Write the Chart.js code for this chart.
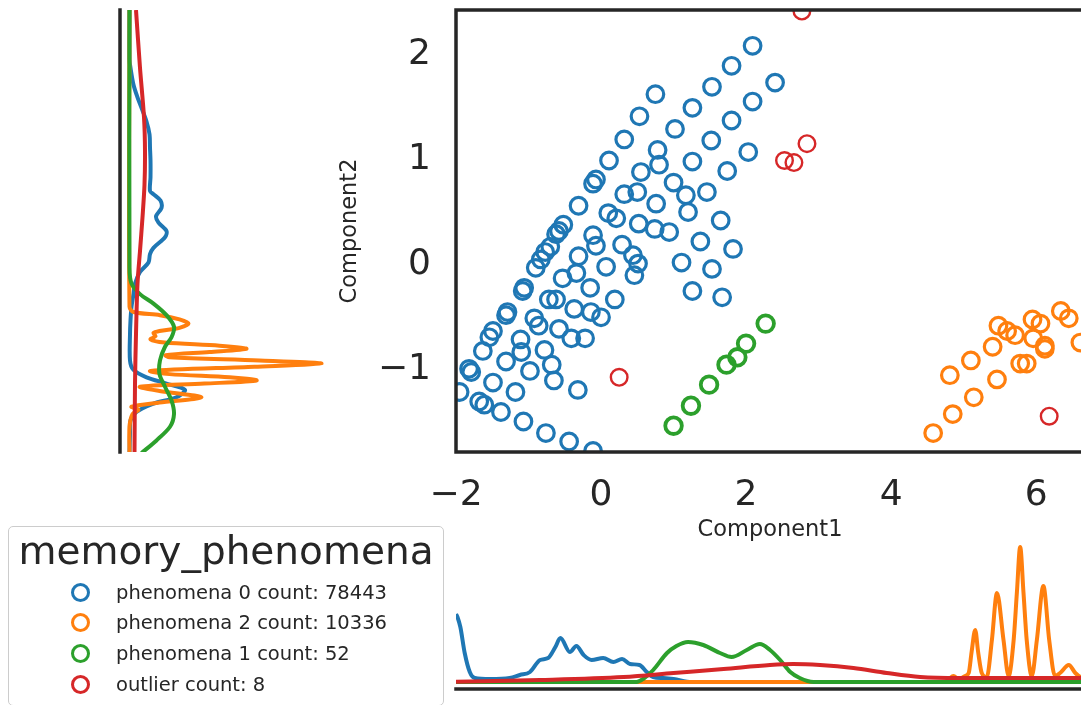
<!DOCTYPE html>
<html>
<head>
<meta charset="utf-8">
<script src="https://cdn.jsdelivr.net/npm/chart.js@4.4.1/dist/chart.umd.min.js"></script>
<style>
  html, body { margin: 0; padding: 0; background: #fff; overflow: hidden; width: 1081px; height: 705px; }
  body { position: relative; font-family: "DejaVu Sans", sans-serif; color: #262626; }
  canvas { position: absolute; }
  #leftChart { left: 100px; top: 0; }
  #bottomChart { left: 440px; top: 520px; }
  #mainChart { left: 330px; top: 0; }
  #legend { position: absolute; left: 8px; top: 526px; width: 436px; height: 180px; box-sizing: border-box;
            border: 1.5px solid #cccccc; border-radius: 5px; background: #fff; }
  #legendTitle { position: absolute; left: 0; right: 0; top: 1px; text-align: center; font-size: 39px; line-height: 45px; white-space: nowrap; }
  .item { position: absolute; left: 0; height: 30.7px; line-height: 30.7px; font-size: 19.5px; white-space: nowrap; }
  .item .mk { position: absolute; left: 62px; top: 5px; width: 13px; height: 13px; border: 3px solid; border-radius: 50%; }
  .item .tx { position: absolute; left: 107px; top: 0; }
</style>
</head>
<body>
<canvas id="leftChart" width="240" height="470"></canvas>
<canvas id="bottomChart" width="650" height="185"></canvas>
<canvas id="mainChart" width="760" height="545"></canvas>
<div id="legend"><div id="legendTitle">memory_phenomena</div></div>
<script>
// series: phenomena 0, phenomena 2, phenomena 1, outlier
const seriesNames = ['phenomena 0', 'phenomena 2', 'phenomena 1', 'outlier'];
const seriesCounts = [78443, 10336, 52, 8];
const seriesColors = ['#1f77b4', '#ff7f0e', '#2ca02c', '#d62728'];
const legendTitle = 'memory_phenomena';

// scatter points [Component1, Component2]
const phen0 = [[2.09,2.08],[1.80,1.89],[2.40,1.73],[1.53,1.69],[0.75,1.62],[2.09,1.55],[1.26,1.49],[0.53,1.41],
  [1.80,1.37],[1.02,1.29],[0.32,1.19],[1.52,1.18],[0.78,1.09],[2.03,1.07],[0.11,0.99],[1.26,0.98],[0.80,0.95],
  [1.74,0.89],[0.55,0.88],[-0.07,0.81],[-0.11,0.77],[1.00,0.78],[1.46,0.69],[0.32,0.67],[0.50,0.69],[1.17,0.66],
  [0.76,0.58],[-0.31,0.56],[0.10,0.49],[0.21,0.44],[1.20,0.50],[1.65,0.42],[0.52,0.39],[0.74,0.34],[0.94,0.31],
  [-0.52,0.38],[-0.58,0.32],[-0.62,0.29],[-0.11,0.28],[-0.07,0.18],[0.29,0.19],[0.44,0.09],[0.51,0.01],[0.46,-0.10],
  [1.37,0.22],[1.82,0.15],[1.11,0.02],[1.53,-0.04],[1.26,-0.25],[1.67,-0.31],[-0.70,0.17],[-0.77,0.12],[-0.83,0.05],
  [-0.90,-0.03],[-0.31,0.08],[0.07,-0.02],[-0.34,-0.08],[-0.53,-0.13],[-0.15,-0.22],[-1.06,-0.22],[-1.08,-0.25],
  [-0.72,-0.33],[-0.62,-0.33],[0.19,-0.33],[-0.37,-0.42],[-0.14,-0.45],[0.00,-0.50],[-1.29,-0.45],[-1.31,-0.48],
  [-0.92,-0.51],[-0.86,-0.58],[-0.58,-0.61],[-0.41,-0.70],[-0.22,-0.70],[-1.49,-0.63],[-1.54,-0.69],[-1.63,-0.82],
  [-1.11,-0.71],[-1.10,-0.83],[-0.78,-0.81],[-1.31,-0.92],[-0.68,-0.95],[-1.82,-0.99],[-1.79,-1.02],[-0.98,-1.01],
  [-0.65,-1.10],[-1.49,-1.12],[-0.32,-1.19],[-1.95,-1.21],[-1.18,-1.21],[-1.68,-1.30],[-1.61,-1.33],[-1.38,-1.40],
  [-1.07,-1.49],[-0.76,-1.60],[-0.44,-1.68],[-0.11,-1.77]];
const phen2 = [[4.58,-1.60],[4.85,-1.42],[5.14,-1.26],[5.46,-1.09],[4.81,-1.05],[5.10,-0.91],[5.40,-0.78],
  [5.48,-0.58],[5.60,-0.63],[5.71,-0.67],[5.78,-0.94],[5.87,-0.94],[5.95,-0.52],[6.06,-0.56],[5.96,-0.70],
  [6.12,-0.77],[6.12,-0.80],[6.34,-0.44],[6.45,-0.51],[6.61,-0.74]];
const phen1 = [[1.00,-1.53],[1.24,-1.34],[1.49,-1.14],[1.73,-0.95],[1.88,-0.88],[2.00,-0.75],[2.27,-0.56]];
const outlier = [[2.77,2.41],[2.53,0.99],[2.66,0.97],[2.84,1.15],[0.25,-1.07],[6.18,-1.44]];

// marginal density of Component2, [Component2, density]
const leftKde0 = [[2.42,0],[1.95,0],[1.87,0.01],[1.71,0.04],[1.59,0.08],[1.49,0.12],[1.36,0.17],[1.24,0.20],
  [1.11,0.205],[0.99,0.21],[0.83,0.21],[0.70,0.205],[0.67,0.24],[0.61,0.31],[0.54,0.32],[0.46,0.265],[0.40,0.29],
  [0.32,0.37],[0.26,0.355],[0.16,0.24],[0.10,0.205],[0.02,0.19],[-0.07,0.105],[-0.18,0.055],[-0.28,0.04],
  [-0.40,0.02],[-0.53,0.01],[-0.66,0.005],[-0.91,0.005],[-1.00,0.04],[-1.07,0.17],[-1.13,0.37],[-1.19,0.555],
  [-1.26,0.47],[-1.32,0.24],[-1.40,0.07],[-1.48,0.01],[-1.60,0.005],[-1.79,0]];
const leftKde2 = [[2.42,0],[-0.40,0],[-0.45,0.04],[-0.48,0.305],[-0.52,0.50],[-0.56,0.59],[-0.60,0.50],
  [-0.63,0.30],[-0.65,0.24],[-0.68,0.26],[-0.71,0.21],[-0.74,0.35],[-0.77,0.90],[-0.80,1.17],[-0.83,0.80],
  [-0.86,0.36],[-0.88,0.40],[-0.91,1.30],[-0.94,1.92],[-0.97,1.25],[-1.01,0.21],[-1.04,0.40],[-1.07,1.00],
  [-1.10,1.27],[-1.13,0.75],[-1.16,0.105],[-1.20,0.30],[-1.26,0.72],[-1.31,0.30],[-1.35,0.02],[-1.38,0.09],
  [-1.42,0.03],[-1.54,0],[-1.79,0]];
const leftKde1 = [[2.42,0],[-0.03,0],[-0.18,0.02],[-0.28,0.105],[-0.37,0.24],[-0.48,0.37],[-0.59,0.445],
  [-0.69,0.42],[-0.78,0.355],[-0.91,0.305],[-1.04,0.30],[-1.16,0.355],[-1.29,0.42],[-1.42,0.445],[-1.54,0.405],
  [-1.67,0.27],[-1.79,0.12]];
const leftKdeOut = [[2.42,0.065],[1.87,0.105],[1.40,0.145],[1.08,0.155],[0.76,0.15],[0.45,0.13],[0.13,0.105],
  [-0.18,0.08],[-0.66,0.065],[-1.13,0.055],[-1.79,0.05]];

// marginal density of Component1, [Component1, density]
const bottomKde0 = [[-2.0,0.68],[-1.98,0.65],[-1.94,0.55],[-1.88,0.29],[-1.81,0.10],[-1.74,0.04],[-1.53,0.03],
  [-1.26,0.04],[-1.12,0.07],[-0.98,0.10],[-0.84,0.22],[-0.73,0.24],[-0.63,0.35],[-0.56,0.44],[-0.43,0.30],
  [-0.34,0.36],[-0.24,0.27],[-0.13,0.22],[0.03,0.24],[0.17,0.20],[0.29,0.23],[0.40,0.18],[0.53,0.17],[0.63,0.10],
  [0.72,0.05],[0.86,0.04],[1.00,0.03],[1.25,0],[6.7,0]];
const bottomKde2 = [[-2.0,0],[4.74,0],[4.80,0.03],[4.86,0.06],[4.93,0.03],[5.02,0.06],[5.07,0.09],[5.11,0.30],
  [5.16,0.52],[5.20,0.30],[5.25,0.09],[5.32,0.05],[5.39,0.42],[5.46,0.89],[5.55,0.42],[5.62,0.06],[5.69,0.42],
  [5.735,0.90],[5.78,1.35],[5.825,0.90],[5.87,0.42],[5.94,0.06],[6.01,0.42],[6.10,0.96],[6.18,0.42],[6.26,0.06],
  [6.33,0.09],[6.45,0.17],[6.54,0.09],[6.61,0.05],[6.7,0.03]];
const bottomKde1 = [[-2.0,0],[0.49,0],[0.58,0.03],[0.72,0.12],[0.91,0.29],[1.04,0.36],[1.20,0.40],[1.41,0.37],
  [1.64,0.29],[1.80,0.25],[2.01,0.32],[2.19,0.38],[2.33,0.32],[2.47,0.22],[2.61,0.10],[2.74,0.04],[2.93,0],[6.7,0]];
const bottomKdeOut = [[-2.0,0.003],[-0.84,0.02],[0.31,0.05],[1.0,0.09],[1.69,0.13],[2.33,0.17],[2.65,0.18],
  [3.02,0.17],[3.48,0.14],[3.94,0.09],[4.40,0.05],[4.95,0.04],[6.7,0.04]];

const xTicks = [-2, 0, 2, 4, 6];
const yTicks = [-1, 0, 1, 2];
const xRange = [-2, 6.66];
const yRange = [-1.78, 2.42];

Chart.defaults.font.family = "'DejaVu Sans', sans-serif";
Chart.defaults.color = '#262626';
Chart.defaults.animation = false;
Chart.defaults.events = [];
Chart.defaults.plugins.legend.display = false;
Chart.defaults.plugins.tooltip.enabled = false;

// draws the axes frame lines (spines)
const spines = {
  id: 'spines',
  afterDraw(chart, args, opts) {
    const { ctx, chartArea: a } = chart;
    ctx.save();
    ctx.strokeStyle = '#262626';
    ctx.lineWidth = opts.width || 3.5;
    ctx.lineCap = 'square';
    ctx.beginPath();
    if (opts.left) { ctx.moveTo(a.left, a.top); ctx.lineTo(a.left, a.bottom); }
    if (opts.right) { ctx.moveTo(a.right, a.top); ctx.lineTo(a.right, a.bottom); }
    if (opts.top) { ctx.moveTo(a.left, a.top); ctx.lineTo(a.right, a.top); }
    if (opts.bottom) { ctx.moveTo(a.left, a.bottom); ctx.lineTo(a.right, a.bottom); }
    ctx.stroke();
    ctx.restore();
  }
};

const minus = v => String(v).replace('-', '\u2212');
const pts = (arr, swap) => arr.map(p => swap ? { x: p[1], y: p[0] } : { x: p[0], y: p[1] });

// main scatter
const scatterSets = [phen0, phen2, phen1, outlier];
const ringWidth = [3.2, 3.2, 3.8, 2.4];
new Chart(document.getElementById('mainChart'), {
  type: 'scatter',
  data: {
    datasets: scatterSets.map((s, i) => ({
      label: seriesNames[i],
      data: pts(s),
      borderColor: seriesColors[i],
      backgroundColor: 'rgba(0,0,0,0)',
      pointRadius: 8.3,
      pointBorderWidth: ringWidth[i],
      order: 4 - i,
      clip: 0
    }))
  },
  options: {
    responsive: false,
    layout: { autoPadding: false, padding: { top: 10, right: 6, left: 0, bottom: 0 } },
    scales: {
      x: {
        min: xRange[0], max: xRange[1],
        grid: { display: false, drawTicks: false, tickLength: 0 },
        border: { display: false },
        afterBuildTicks: s => { s.ticks = xTicks.map(v => ({ value: v })); },
        afterFit: s => { s.height = 93; s.paddingLeft = 0; s.paddingRight = 0; },
        ticks: { font: { size: 36 }, padding: 22, callback: minus, maxRotation: 0 },
        title: { display: true, text: 'Component1', font: { size: 22.5 }, padding: { top: 0, bottom: 1.5 } }
      },
      y: {
        min: yRange[0], max: yRange[1],
        grid: { display: false, drawTicks: false, tickLength: 0 },
        border: { display: false },
        afterBuildTicks: s => { s.ticks = yTicks.map(v => ({ value: v })); },
        afterFit: s => { s.width = 126; s.paddingTop = 0; s.paddingBottom = 0; },
        ticks: { font: { size: 36 }, padding: 25, callback: minus },
        title: { display: true, text: 'Component2', font: { size: 22.5 }, padding: { top: 6.5, bottom: 0 } }
      }
    },
    plugins: { spines: { left: true, right: true, top: true, bottom: true, width: 3.5 } }
  },
  plugins: [spines]
});

// left marginal density (Component2)
const leftSets = [leftKde0, leftKde2, leftKde1, leftKdeOut];
new Chart(document.getElementById('leftChart'), {
  type: 'scatter',
  data: {
    datasets: leftSets.map((s, i) => ({
      label: seriesNames[i],
      data: pts(s, true),
      showLine: true,
      borderColor: seriesColors[i],
      borderWidth: 4,
      pointRadius: 0,
      tension: 0.3,
      order: 4 - i,
      clip: 0
    }))
  },
  options: {
    responsive: false,
    layout: { autoPadding: false, padding: { top: 10, right: 10, left: 20, bottom: 18 } },
    scales: {
      x: { display: false, min: -0.095, max: 2.005 },
      y: { display: false, min: yRange[0], max: yRange[1] }
    },
    plugins: { spines: { left: true, width: 3.5 } }
  },
  plugins: [spines]
});

// bottom marginal density (Component1)
const bottomSets = [bottomKde0, bottomKde2, bottomKde1, bottomKdeOut];
new Chart(document.getElementById('bottomChart'), {
  type: 'scatter',
  data: {
    datasets: bottomSets.map((s, i) => ({
      label: seriesNames[i],
      data: pts(s),
      showLine: true,
      borderColor: seriesColors[i],
      borderWidth: 4,
      pointRadius: 0,
      cubicInterpolationMode: 'monotone',
      order: 4 - i,
      clip: 0
    }))
  },
  options: {
    responsive: false,
    layout: { autoPadding: false, padding: { top: 20, right: 6, left: 16, bottom: 16 } },
    scales: {
      x: { display: false, min: xRange[0], max: xRange[1] },
      y: { display: false, min: -0.07, max: 1.42 }
    },
    plugins: { spines: { bottom: true, width: 3.5 } }
  },
  plugins: [spines]
});

// legend box
const legend = document.getElementById('legend');
document.getElementById('legendTitle').textContent = legendTitle;
seriesNames.forEach((name, i) => {
  const row = document.createElement('div');
  row.className = 'item';
  row.style.top = (50.5 + i * 30.7) + 'px';
  row.style.width = '100%';
  const mk = document.createElement('span');
  mk.className = 'mk';
  mk.style.borderColor = seriesColors[i];
  const tx = document.createElement('span');
  tx.className = 'tx';
  tx.textContent = name + ' count: ' + seriesCounts[i];
  row.appendChild(mk);
  row.appendChild(tx);
  legend.appendChild(row);
});
</script>
</body>
</html>
